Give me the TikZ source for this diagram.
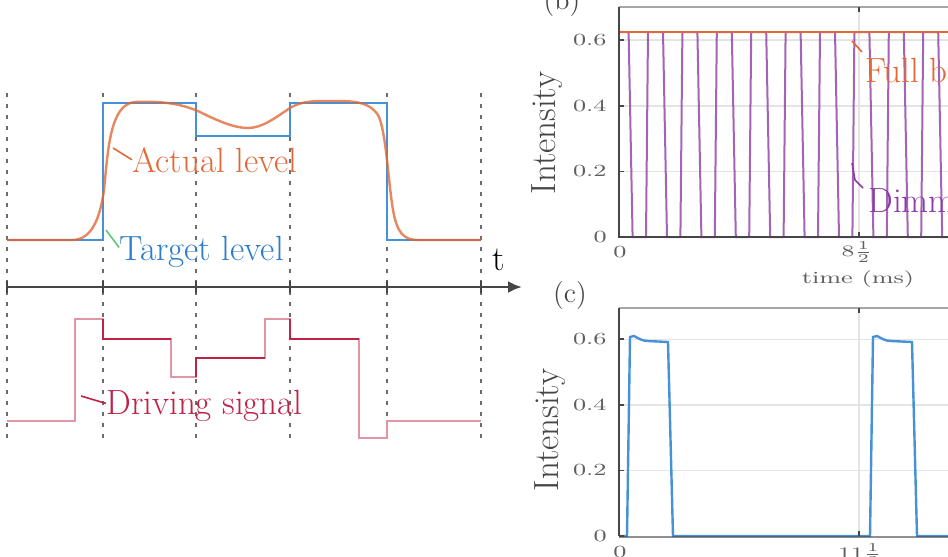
\documentclass[tikz,border=0pt]{standalone}
\usepackage{graphicx}
\usetikzlibrary{arrows.meta}
\definecolor{tblue}{RGB}{70,145,215}
\definecolor{tbluetxt}{RGB}{45,125,205}
\definecolor{torange}{RGB}{226,105,55}
\definecolor{tcrim}{RGB}{190,35,70}
\definecolor{tpink}{RGB}{225,150,165}
\definecolor{tpurp}{RGB}{140,60,165}
\definecolor{tgreen}{RGB}{90,200,120}
\definecolor{tgrid}{RGB}{228,228,228}
\definecolor{ttick}{RGB}{95,95,95}
\definecolor{taxis}{RGB}{70,70,70}
\newcommand{\tklab}[1]{\scalebox{1.5}[1]{#1}}
\begin{document}
\begin{tikzpicture}[x=0.5pt,y=-0.5pt,
  lbl/.style={inner sep=0pt, font=\fontsize{17.5}{20}\selectfont},
  tl/.style={inner sep=0pt, text=ttick, font=\fontsize{8.5}{10}\selectfont},
  vguide/.style={draw=gray!85!black, line width=0.7pt, dash pattern=on 2pt off 3.5pt},
  taxisline/.style={draw=taxis, line width=1.4pt},
  tickmark/.style={draw=taxis, line width=0.8pt},
  bluestep/.style={draw=tblue, line width=1.3pt},
  actual/.style={draw=torange, line width=1.2pt, opacity=0.8},
  drvlight/.style={draw=tpink, line width=1.1pt},
  drvdark/.style={draw=tcrim, line width=1.3pt},
  leader/.style={line width=0.8pt},
  axbox/.style={draw=taxis, line width=1pt},
  axtop/.style={draw=gray!70, line width=0.9pt},
  gridline/.style={draw=tgrid, line width=0.7pt},
  pwm/.style={draw=tpurp, line width=1pt, opacity=0.8},
  full/.style={draw=torange, line width=1.1pt},
  pulse/.style={draw=tblue, line width=1.2pt},
]
\useasboundingbox (0,0) rectangle (948,557);
\fill[white] (0,0) rectangle (948,557);
\clip (0,0) rectangle (948,557);

% ---------------- left panel ----------------
\foreach \gx in {7,103,196,290,387,481}{
  \draw[vguide] (\gx,93) -- (\gx,442);
}
% time axis
\coordinate (tstart) at (7,287);
\coordinate (tend) at (522,287);
\draw[taxisline, -{Latex[length=7pt,width=6pt]}] (tstart) -- (tend);
\foreach \gx in {7,103,196,290,387,481}{
  \draw[tickmark] (\gx,281) -- (\gx,293);
}
\node[lbl, anchor=base west] (tlab) at (492,270) {t};

% target level
\draw[bluestep] (7,240) -- (103,240) -- (103,103) -- (196,103) -- (196,136)
  -- (290,136) -- (290,103) -- (387,103) -- (387,240) -- (481,240);
% actual level
\draw[actual] (7,240) -- (72,240)
  .. controls (92,240) and (100,218) .. (104,190)
  .. controls (108,150) and (110,104) .. (135,102)
  .. controls (160,101) and (180,103) .. (200,112)
  .. controls (220,122) and (235,128) .. (248,128)
  .. controls (262,128) and (275,118) .. (290,108)
  .. controls (300,102) and (310,101) .. (325,101)
  .. controls (350,101) and (368,100) .. (378,115)
  .. controls (386,130) and (388,180) .. (393,210)
  .. controls (397,232) and (403,240) .. (418,240)
  -- (481,240);

% driving signal
\draw[drvlight] (7,421) -- (75,421) -- (75,319) -- (103,319) -- (103,339) -- (171,339)
  -- (171,377) -- (196,377) -- (196,358) -- (265,358) -- (265,319) -- (290,319)
  -- (290,339) -- (359,339) -- (359,438) -- (387,438) -- (387,421) -- (481,421);
\draw[drvdark] (103,319) -- (103,339) -- (171,339);
\draw[drvdark] (196,377) -- (196,358) -- (265,358);
\draw[drvdark] (290,319) -- (290,339) -- (359,339);

% labels
\node[lbl, text=torange, anchor=base west] (actlab) at (132,172) {Actual level};
\node[lbl, text=tbluetxt, anchor=base west] (tarlab) at (119,260) {Target level};
\node[lbl, text=tcrim, anchor=base west] (drvlab) at (106,414) {Driving signal};
\coordinate (actp) at (113,148);
\coordinate (tarp) at (106,230);
\coordinate (drvp) at (81,396);
\draw[leader, torange] (actp) -- (actlab.west);
\draw[leader, tgreen] (tarp) -- ([yshift=2pt]tarlab.west);
\draw[leader, tcrim] (drvp) -- ([yshift=1pt]drvlab.west);

% ---------------- panel (b) ----------------
\node[inner sep=0pt, text=taxis, font=\fontsize{14}{16}\selectfont] (blab) at (562,3) {(b)};
\draw[gridline] (619,171.4) -- (960,171.4);
\draw[gridline] (619,105.8) -- (960,105.8);
\draw[gridline] (619,40) -- (960,40);
\draw[gridline] (859,7) -- (859,237);
\begin{scope}
  \clip (619,0) rectangle (960,240);
  \foreach \k in {0,...,10}{
    \pgfmathsetmacro{\s}{611.6+34.4*\k}
    \draw[pwm] (\s,237) -- ({\s+2},32) -- ({\s+17},32) -- ({\s+21},237) -- ({\s+34.4},237);
  }
\end{scope}
\draw[full] (619,32) -- (960,32);
\draw[axtop] (619,7) -- (960,7);
\draw[axbox] (619,7) -- (619,237) -- (960,237);
\foreach \yy in {237,171.4,105.8,40}{ \draw[tickmark] (619,\yy) -- (624,\yy); }
\draw[tickmark] (859,7) -- (859,12);
\draw[tickmark] (859,237) -- (859,232);
\node[tl, anchor=east] (by0) at (607,237) {\tklab{0}};
\node[tl, anchor=east] (by2) at (607,171.4) {\tklab{0.2}};
\node[tl, anchor=east] (by4) at (607,105.8) {\tklab{0.4}};
\node[tl, anchor=east] (by6) at (607,40) {\tklab{0.6}};
\node[tl] (bx0) at (620,252) {\tklab{0}};
\node[tl] (bx1) at (857,252) {\tklab{$8\frac{1}{2}$}};
\node[tl] (bxl) at (858,279) {\tklab{time (ms)}};
\node[lbl, text=taxis, rotate=90] (byl) at (547,133) {Intensity};
\node[lbl, text=torange, anchor=base west] (fulllab) at (865,83) {Full brightness};
\node[lbl, text=tpurp, anchor=base west] (dimlab) at (868,212) {Dimming};
\coordinate (fullp) at (852,41);
\coordinate (dimp) at (852,163);
\draw[leader, torange] (fullp) -- (862,52);
\draw[leader, tpurp] (dimp) -- (855,180) -- (863,188);

% ---------------- panel (c) ----------------
\node[inner sep=0pt, text=taxis, font=\fontsize{14}{16}\selectfont] (clab) at (570,296) {(c)};
\draw[gridline] (619,470.4) -- (960,470.4);
\draw[gridline] (619,404.8) -- (960,404.8);
\draw[gridline] (619,339.2) -- (960,339.2);
\draw[gridline] (859,308) -- (859,536);
\draw[axtop] (619,308) -- (960,308);
\draw[pulse] (619,536) -- (627,536) -- (630,337) -- (634,336)
  .. controls (638,338) and (642,341) .. (648,341) -- (668,342) -- (673,536)
  -- (870,536) -- (873,337) -- (877,336)
  .. controls (881,338) and (885,341) .. (891,341) -- (912,342) -- (917,536) -- (960,536);
\draw[axbox] (619,308) -- (619,536);
\draw[draw=taxis, line width=0.8pt, opacity=0.6] (619,537) -- (960,537);
\foreach \yy in {536,470.4,404.8,339.2}{ \draw[tickmark] (619,\yy) -- (624,\yy); }
\draw[tickmark] (859,308) -- (859,313);
\draw[tickmark] (859,536) -- (859,531);
\node[tl, anchor=east] (cy0) at (607,536) {\tklab{0}};
\node[tl, anchor=east] (cy2) at (607,470.4) {\tklab{0.2}};
\node[tl, anchor=east] (cy4) at (607,404.8) {\tklab{0.4}};
\node[tl, anchor=east] (cy6) at (607,339.2) {\tklab{0.6}};
\node[tl] (cx0) at (620,552) {\tklab{0}};
\node[tl] (cx1) at (860,554) {\tklab{$11\frac{1}{2}$}};
\node[lbl, text=taxis, rotate=90] (cyl) at (550,430) {Intensity};
\end{tikzpicture}
\end{document}
